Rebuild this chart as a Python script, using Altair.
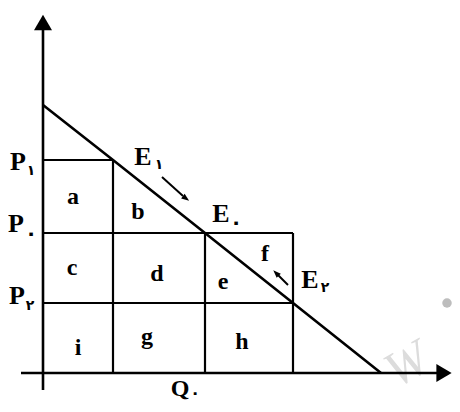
import altair as alt
import pandas as pd

# Quantities and prices (chart units)
Q1, Q0, Q2, Q_INT = 7.0, 16.2, 25.0, 33.8
P_INT, P1, P0, P2 = 26.8, 21.3, 14.0, 7.0

demand_q = [0, Q1, Q0, Q2, Q_INT]
demand_p = [P_INT, P1, P0, P2, 0]

# grid segments: (q, p, q2, p2)
seg_q = [0, 0, 0, Q1, Q0, Q2]
seg_p = [P1, P0, P2, P1, P0, P0]
seg_q2 = [Q1, Q2, Q2, Q1, Q0, Q2]
seg_p2 = [P1, P0, P2, 0, 0, 0]

# axes
axis_q = [0, -2.2]
axis_p = [-1.7, 0]
axis_q2 = [0, 39.8]
axis_p2 = [34.8, 0]

# region letters
region_txt = ["a", "b", "c", "d", "e", "f", "g", "h", "i"]
region_q = [3.0, 9.5, 2.9, 11.4, 18.0, 22.2, 10.4, 19.9, 3.5]
region_p = [17.6, 16.1, 10.5, 9.9, 9.1, 11.9, 3.6, 3.1, 2.5]

# main labels
main_txt = ["P", "P", "P", "E", "E", "E", "Q"]
main_size = [26, 26, 26, 26, 26, 26, 24]
main_q = [-2.5, -2.7, -2.6, 10.0, 17.8, 26.7, 13.7]
main_p = [21.1, 14.9, 7.7, 21.6, 15.9, 9.3, -1.6]
sub_txt = ["۱", "۰", "۲", "۱", "۰", "۲", "۰"]
sub_size = [14, 20, 14, 14, 20, 14, 16]
sub_q = [-1.2, -1.2, -1.3, 11.6, 19.3, 28.2, 15.2]
sub_p = [20.2, 13.9, 6.7, 20.8, 15.0, 8.5, -2.0]

# small movement arrows
arr_q = [11.9, 24.5]
arr_p = [19.6, 8.8]
arr_q2 = [14.0, 23.5]
arr_p2 = [17.7, 9.8]
head_q = [14.3, 23.3]
head_p = [17.45, 10.0]
head_ang = [127, 315]

XS = alt.Scale(domain=[-3.5, 40.9], nice=False, zero=False)
YS = alt.Scale(domain=[-3.1, 36.5], nice=False, zero=False)
X = lambda f: alt.X(f, type="quantitative", scale=XS, axis=None)
Y = lambda f: alt.Y(f, type="quantitative", scale=YS, axis=None)

demand = pd.DataFrame({"q": demand_q, "p": demand_p})
segs = pd.DataFrame({"q": seg_q, "p": seg_p, "q2": seg_q2, "p2": seg_p2})
axes = pd.DataFrame({"q": axis_q, "p": axis_p, "q2": axis_q2, "p2": axis_p2})
regions = pd.DataFrame({"t": region_txt, "q": region_q, "p": region_p})
mains = pd.DataFrame({"t": main_txt, "q": main_q, "p": main_p, "s": main_size})
subs = pd.DataFrame({"t": sub_txt, "q": sub_q, "p": sub_p, "s": sub_size})
arrs = pd.DataFrame({"q": arr_q, "p": arr_p, "q2": arr_q2, "p2": arr_p2})
heads = pd.DataFrame({"q": head_q, "p": head_p, "a": head_ang})
yhead = pd.DataFrame({"q": [0], "p": [35.05]})
xhead = pd.DataFrame({"q": [40.1], "p": [0]})
dot = pd.DataFrame({"q": [40.4], "p": [7.0]})
wm = pd.DataFrame({"t": ["W"], "q": [36.4], "p": [0.8]})

layers = [
    alt.Chart(wm).mark_text(fontSize=50, font="Liberation Serif", fontStyle="italic",
                            color="#dcdcdc", angle=330, align="center", baseline="middle")
    .encode(x=X("q"), y=Y("p"), text="t:N"),
    alt.Chart(dot).mark_point(filled=True, size=90, color="#bdbdbd", opacity=1)
    .encode(x=X("q"), y=Y("p")),
    alt.Chart(segs).mark_rule(color="black", strokeWidth=2.2)
    .encode(x=X("q"), y=Y("p"), x2="q2", y2="p2"),
    alt.Chart(axes).mark_rule(color="black", strokeWidth=2.6)
    .encode(x=X("q"), y=Y("p"), x2="q2", y2="p2"),
    alt.Chart(demand).mark_line(color="black", strokeWidth=2.6)
    .encode(x=X("q"), y=Y("p")),
    alt.Chart(yhead).mark_point(shape="M0,-0.85L1,0.85L-1,0.85Z", size=324, filled=True,
                                color="black", opacity=1)
    .encode(x=X("q"), y=Y("p")),
    alt.Chart(xhead).mark_point(shape="M0.85,0L-0.85,1L-0.85,-1Z", size=324, filled=True,
                                color="black", opacity=1)
    .encode(x=X("q"), y=Y("p")),
    alt.Chart(arrs).mark_rule(color="black", strokeWidth=2)
    .encode(x=X("q"), y=Y("p"), x2="q2", y2="p2"),
    alt.Chart(heads).mark_point(shape="M0,-1L0.75,1L-0.75,1Z", size=60, filled=True,
                                color="black", opacity=1)
    .encode(x=X("q"), y=Y("p"), angle=alt.Angle("a:Q", scale=None)),
    alt.Chart(regions).mark_text(fontSize=24, font="Liberation Serif", fontWeight="bold",
                                 color="black", align="center", baseline="middle")
    .encode(x=X("q"), y=Y("p"), text="t:N"),
    alt.Chart(mains).mark_text(font="Liberation Serif", fontWeight="bold",
                               color="black", align="center", baseline="middle")
    .encode(x=X("q"), y=Y("p"), text="t:N", size=alt.Size("s:Q", scale=None, legend=None)),
    alt.Chart(subs).mark_text(font="DejaVu Sans", fontWeight="bold",
                              color="black", align="center", baseline="middle")
    .encode(x=X("q"), y=Y("p"), text="t:N", size=alt.Size("s:Q", scale=None, legend=None)),
]

chart = alt.layer(*layers).properties(
    width=444, height=396, padding=0, autosize=alt.AutoSizeParams(type="none"),
    background="white"
).configure_view(strokeWidth=0)

chart.save("out.html", embed_options={"renderer": "svg", "actions": False})
